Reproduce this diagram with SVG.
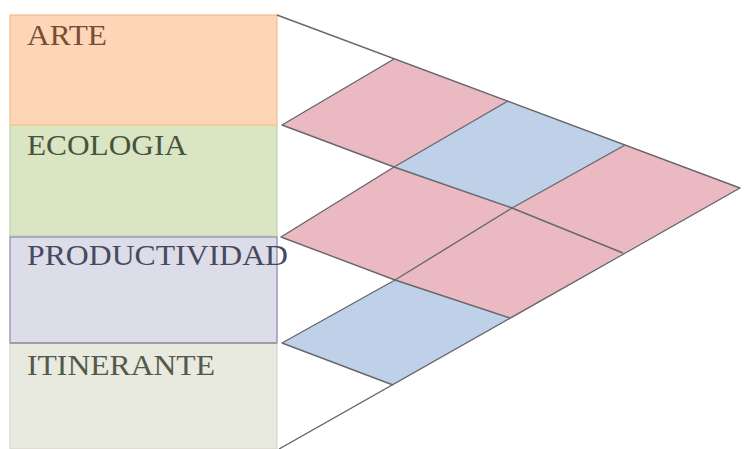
<svg xmlns="http://www.w3.org/2000/svg" width="744" height="449" viewBox="0 0 744 449">
<style>
.lbl{font-family:"Liberation Serif","Times New Roman",serif;font-size:30px}
.pink{fill:#ebb9c1}
.blue{fill:#bed1e9}
.ln{fill:none;stroke:#67676c;stroke-width:1.4;stroke-linejoin:round}
</style>
<rect width="744" height="449" fill="#ffffff"/>
<g id="arte">
<rect x="10" y="15" width="267" height="110" fill="#fdd6b8" stroke="#f0bb90" stroke-width="1.2"/>
<text class="lbl" x="27" y="45" fill="#7a4c34" textLength="80" lengthAdjust="spacingAndGlyphs">ARTE</text>
</g>
<g id="ecologia">
<rect x="10" y="125" width="267" height="111" fill="#dae5c4" stroke="#c6ccae" stroke-width="1.2"/>
<line x1="10" y1="125" x2="277" y2="125" stroke="#efcf98" stroke-width="2"/>
<text class="lbl" x="27" y="155" fill="#46543c" textLength="160" lengthAdjust="spacingAndGlyphs">ECOLOGIA</text>
</g>
<g id="productividad">
<rect x="10" y="237" width="267" height="106" fill="#dddce9" stroke="#9a9ab8" stroke-width="1.5"/>
<text class="lbl" x="27" y="265" fill="#474a5e" textLength="261" lengthAdjust="spacingAndGlyphs">PRODUCTIVIDAD</text>
</g>
<g id="itinerante">
<rect x="10" y="343" width="267" height="106" fill="#e8e9df" stroke="#d6d8c8" stroke-width="1.2"/>
<line x1="10" y1="343" x2="277" y2="343" stroke="#8e8e92" stroke-width="1.6"/>
<text class="lbl" x="27" y="375" fill="#535a4a" textLength="188" lengthAdjust="spacingAndGlyphs">ITINERANTE</text>
</g>
<g id="grid">
<polygon class="pink" points="282,125 394,59 508,101 394,167"/>
<polygon class="blue" points="394,167 508,101 625,145 512,208"/>
<polygon class="pink" points="281,237 394,167 512,208 395,280"/>
<polygon class="pink" points="512,208 625,145 740,188 623,253"/>
<polygon class="pink" points="395,280 512,208 623,253 510,318"/>
<polygon class="blue" points="282,343 395,280 510,318 393,385"/>
</g>
<g id="connectors">
<polyline class="ln" points="277,15 740,188 279,449"/>
<polyline class="ln" points="394,59 282,125 394,167 508,101"/>
<polyline class="ln" points="394,167 512,208 625,145"/>
<polyline class="ln" points="394,167 281,237 395,280 512,208 623,253"/>
<polyline class="ln" points="395,280 282,343 393,385"/>
<line class="ln" x1="395" y1="280" x2="510" y2="318"/>
</g>
</svg>
